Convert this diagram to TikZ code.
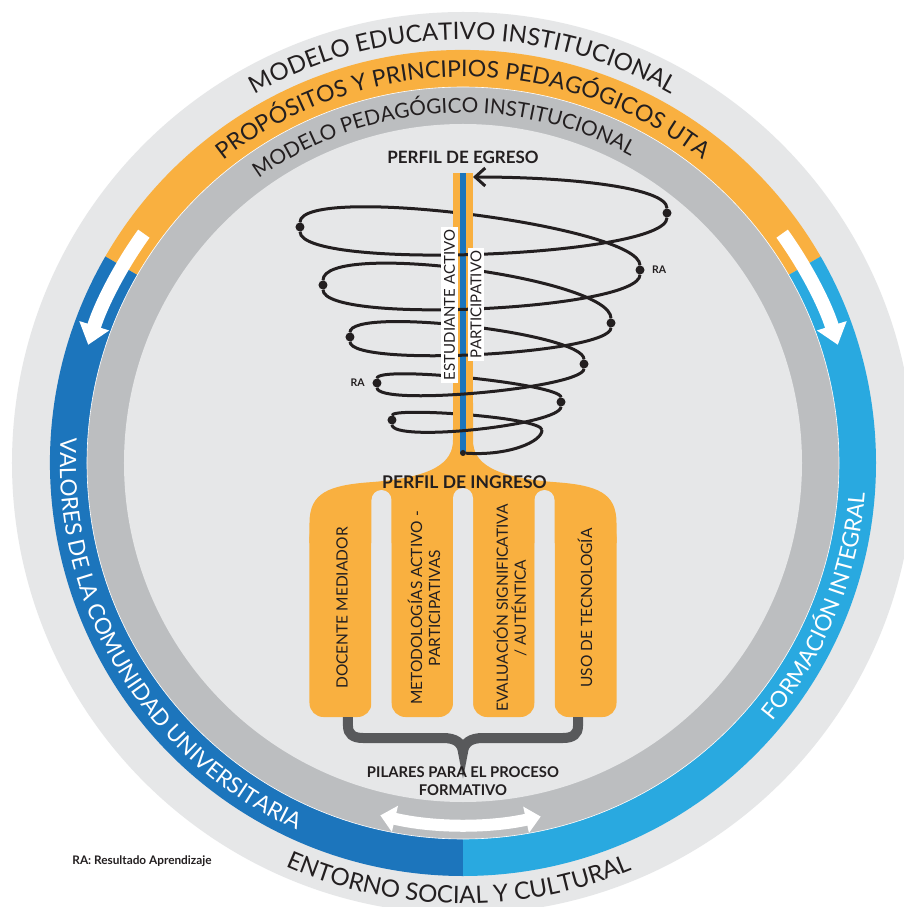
\documentclass[tikz,border=0pt]{standalone}
\usepackage{fontspec}
\setmainfont{Lato}
\usetikzlibrary{decorations.text,arrows.meta,positioning}

\definecolor{fondo}{HTML}{E6E7E8}
\definecolor{gris}{HTML}{BCBEC0}
\definecolor{naranja}{HTML}{F9B040}
\definecolor{azul}{HTML}{1C75BC}
\definecolor{celeste}{HTML}{29A9E0}
\definecolor{grisosc}{HTML}{58595B}
\definecolor{tinta}{HTML}{231F20}

\newcommand\letraAnillo[1]{\fontsize{#1}{#1}\selectfont\color{tinta}}

\begin{document}
\begin{tikzpicture}[x=1pt,y=1pt,
    arco/.style={decorate,decoration={text along path,text align=center,text={#1}}},
    punto/.style={circle,fill=tinta,inner sep=0pt,minimum size=9pt},
    espira/.style={line width=3pt,tinta},
    pilar/.style={fill=naranja,rounded corners=14pt},
    hueco/.style={fill=fondo,rounded corners=10pt},
    flecha/.style={white,line width=14pt},
    rotulo/.style={text=tinta,font=\bfseries\fontsize{14.8}{18}\selectfont,align=center},
    vertical/.style={rotate=90,text=tinta,font=\fontsize{15.5}{18}\selectfont,align=center},
    caja/.style={rotate=90,fill=white,text=tinta,font=\fontsize{15}{15}\selectfont,inner xsep=3pt,inner ysep=3pt},
    ra/.style={text=tinta,font=\bfseries\fontsize{10.5}{10.5}\selectfont}]
  \useasboundingbox (-463,-444) rectangle (441,463);
  \clip (-463,-444) rectangle (441,463);
  \fill[white] (-463,-444) rectangle (441,463);

  % anillos
  \fill[fondo] (0,0) circle (451pt);
  \fill[naranja] (0,0) -- (30:413pt) arc[start angle=30,end angle=150,radius=413pt] -- cycle;
  \fill[azul] (0,0) -- (150:413pt) arc[start angle=150,end angle=270,radius=413pt] -- cycle;
  \fill[celeste] (0,0) -- (270:413pt) arc[start angle=270,end angle=390,radius=413pt] -- cycle;
  \fill[gris] (0,0) circle (376pt);
  \draw[white,line width=0.6pt] (0,0) circle (376pt);
  \fill[fondo] (0,0) circle (339pt);

  % textos de los anillos
  \path[arco={|\letraAnillo{24}|MODELO EDUCATIVO INSTITUCIONAL}] %
    (170:423.5pt) arc[start angle=170,end angle=10,radius=423.5pt];
  \path[arco={|\letraAnillo{23}|PROPÓSITOS Y PRINCIPIOS PEDAGÓGICOS UTA}] %
    (170:386pt) arc[start angle=170,end angle=10,radius=386pt];
  \path[arco={|\letraAnillo{20.7}|MODELO PEDAGÓGICO INSTITUCIONAL}] %
    (173.5:350pt) arc[start angle=173.5,end angle=13.5,radius=350pt];
  \path[arco={|\fontsize{22.5}{22.5}\selectfont\color{white}|VALORES DE LA COMUNIDAD UNIVERSITARIA}] %
    (131:403pt) arc[start angle=131,end angle=291,radius=403pt];
  \path[arco={|\fontsize{22.5}{22.5}\selectfont\color{white}|FORMACIÓN INTEGRAL}] %
    (-102:403pt) arc[start angle=-102,end angle=58,radius=403pt];
  \path[arco={|\letraAnillo{24}|ENTORNO SOCIAL Y CULTURAL}] %
    (199.4:440.5pt) arc[start angle=199.4,end angle=339.4,radius=440.5pt];

  % flechas blancas
  \draw[flecha,-{Triangle[width=30pt,length=20pt]}] %
    (144.3:393pt) arc[start angle=144.3,end angle=162.5,radius=393pt];
  \draw[flecha,-{Triangle[width=30pt,length=20pt]}] %
    (35.7:393pt) arc[start angle=35.7,end angle=17.5,radius=393pt];
  \draw[white,line width=12pt,{Triangle[width=26pt,length=15pt]}-{Triangle[width=26pt,length=15pt]}] %
    (256.8:362pt) arc[start angle=256.8,end angle=282.4,radius=362pt];

  % puntos de la espiral
  \coordinate (r0) at (79,33);
  \node[punto] (l1) at (-71,43) {};
  \node[punto] (r1) at (98,61) {};
  \node[punto] (l2) at (-86,80) {};
  \node[punto] (r2) at (121,99) {};
  \node[punto] (l3) at (-113,126) {};
  \node[punto] (r3) at (148,140) {};
  \node[punto] (l4) at (-140,178) {};
  \node[punto] (r4) at (177,193) {};
  \node[punto] (l5) at (-163,236) {};
  \node[punto] (r5) at (204,250) {};
  \coordinate (fin) at (10,286);

  % tramos de atras
  \draw[espira] (r0) .. controls +(0,13) and +(0,13) .. (l1);
  \draw[espira] (r1) .. controls +(0,18) and +(0,18) .. (l2);
  \draw[espira] (r2) .. controls +(0,31) and +(0,31) .. (l3);
  \draw[espira] (r3) .. controls +(0,45) and +(0,45) .. (l4);
  \draw[espira] (r4) .. controls +(0,44) and +(0,44) .. (l5);

  % tronco y pilares
  \fill[naranja] (-10,290) rectangle (10,0);
  \fill[naranja] (-10,60) -- (-10,23) .. controls (-10,0) and (-30,-14) .. (-90,-19) %
    .. controls (-135,-22) and (-153.5,-30) .. (-153.5,-60) -- (-153.5,-80) -- (153.5,-80) %
    -- (153.5,-60) .. controls (153.5,-30) and (135,-22) .. (90,-19) %
    .. controls (30,-14) and (10,0) .. (10,23) -- (10,60) -- cycle;
  \fill[azul] (-3,290) rectangle (3,10);
  \fill[pilar] (-153.5,-254) rectangle (-91.5,-60);
  \fill[pilar] (-71.5,-254) rectangle (-10,-60);
  \fill[pilar] (10,-254) rectangle (71.5,-60);
  \fill[pilar] (91.5,-254) rectangle (153.5,-60);
  \fill[hueco] (-91.5,-27) rectangle (-71.5,-265);
  \fill[hueco] (-10,-25) rectangle (10,-265);
  \fill[hueco] (71.5,-27) rectangle (91.5,-265);

  % tramos de adelante
  \node[punto,minimum size=6pt] (s0) at (0,10) {};
  \draw[espira] (s0) .. controls +(45,-3) and +(0,-12) .. (r0);
  \draw[espira] (l1) .. controls +(0,-23) and +(0,-23) .. (r1);
  \draw[espira] (l2) .. controls +(0,-24) and +(0,-24) .. (r2);
  \draw[espira] (l3) .. controls +(0,-31) and +(0,-31) .. (r3);
  \draw[espira] (l4) .. controls +(0,-40) and +(0,-40) .. (r4);
  \draw[espira] (l5) .. controls +(0,-44) and +(0,-44) .. (r5);
  \draw[espira,-{Straight Barb[length=10pt,width=18pt]}] (r5) .. controls +(0,25) and +(100,0) .. (fin);

  \node[caja] (estudiante) at (-13.5,158) {ESTUDIANTE ACTIVO};
  \node[caja] (participativo) at (13,158.5) {PARTICIPATIVO};
  \node[ra,right=4pt of r4] (raDer) {RA};
  \node[ra,left=4pt of l2] (raIzq) {RA};

  \node[rotulo,font=\bfseries\fontsize{17}{17}\selectfont] (egreso) at (0,306) {PERFIL DE EGRESO};
  \node[rotulo,font=\bfseries\fontsize{17.5}{17.5}\selectfont] (ingreso) at (1.5,-19) {PERFIL DE INGRESO};

  \node[vertical] (docente) at (-121,-145) {DOCENTE MEDIADOR};
  \node[vertical] (metodologias) at (-39,-145) {METODOLOGÍAS ACTIVO -\\PARTICIPATIVAS};
  \node[vertical] (evaluacion) at (47,-145) {EVALUACIÓN SIGNIFICATIVA\\/ AUTÉNTICA};
  \node[vertical] (tecnologia) at (122,-145) {USO DE TECNOLOGÍA};

  % llave
  \draw[grisosc,line width=10pt] (-115,-254) -- (-115,-263) .. controls (-115,-271) and (-110,-275) .. (-100,-275) %
    -- (-20,-275) .. controls (-7,-275) and (-1,-280) .. (0,-289) %
    .. controls (1,-280) and (7,-275) .. (20,-275) -- (100,-275) %
    .. controls (110,-275) and (115,-271) .. (115,-263) -- (115,-254);
  \node[rotulo] (pilares) at (0,-318) {PILARES PARA EL PROCESO\\FORMATIVO};

  \node[ra,font=\bfseries\fontsize{11.8}{11.8}\selectfont] (nota) at (-321,-398) {RA: Resultado Aprendizaje};
\end{tikzpicture}
\end{document}
